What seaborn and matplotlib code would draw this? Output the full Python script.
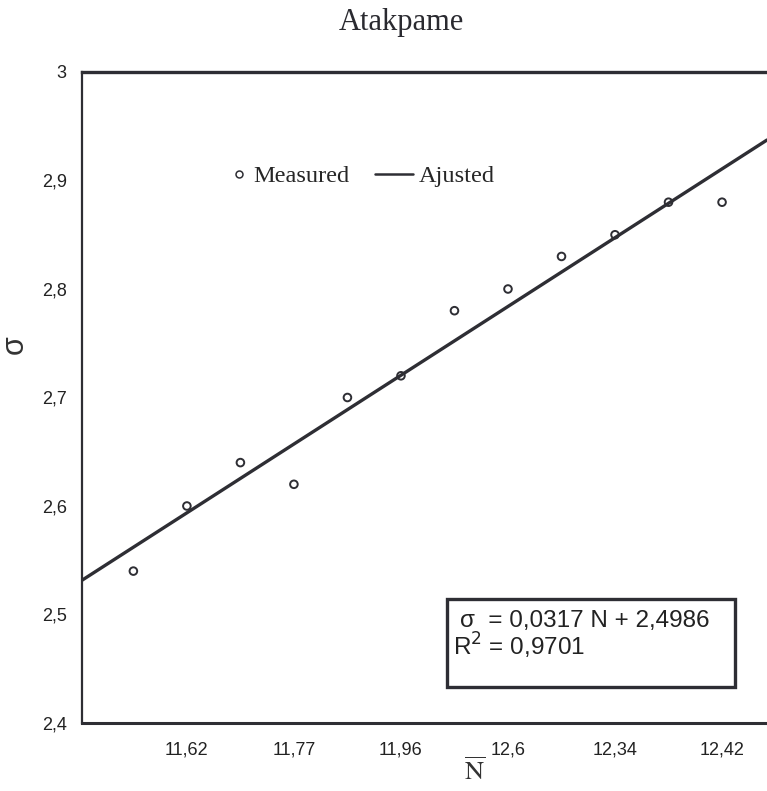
import numpy as np
import pandas as pd
import matplotlib
matplotlib.use("Agg")
import matplotlib.pyplot as plt
from matplotlib.patches import Rectangle
from matplotlib.lines import Line2D
import seaborn as sns

# Measured sigma per class of mean N, with the fitted linear trend
positions = [2, 3, 4, 5, 6, 7, 8, 9, 10, 11, 12, 13]
tick_labels = ["", "11,62", "", "11,77", "", "11,96", "", "12,6", "", "12,34", "", "12,42"]
sigma_measured = [2.54, 2.60, 2.64, 2.62, 2.70, 2.72, 2.78, 2.80, 2.83, 2.85, 2.88, 2.88]
fit_slope = 0.0317
fit_intercept = 2.4986
fit_r2 = 0.9701
y_ticks = [2.4, 2.5, 2.6, 2.7, 2.8, 2.9, 3.0]
y_tick_labels = ["2,4", "2,5", "2,6", "2,7", "2,8", "2,9", "3"]

sns.set_theme(style="white")
plt.rcParams["font.family"] = ["Liberation Sans", "DejaVu Sans"]

INK = "#2e2e34"
SANS = ["Liberation Sans", "DejaVu Sans"]
SERIF = ["Liberation Serif", "DejaVu Serif"]

W, H = 767, 791
fig = plt.figure(figsize=(W / 100, H / 100), dpi=100)
ax = fig.add_axes([82 / W, 68 / H, 685 / W, 651 / H])


def ax_x(px):
    return (px - 82) / 685


def ax_y(py):
    return (723 - py) / 651


x_lo, x_hi = 1.04, 13.84

# fitted line across the whole plotting range
xs = np.linspace(x_lo, x_hi, 60)
fit_df = pd.DataFrame({"N": xs, "sigma": fit_slope * xs + fit_intercept})
sns.lineplot(data=fit_df, x="N", y="sigma", ax=ax, color=INK, lw=2.4,
             legend=False, zorder=2)

# measured points as open circles
meas_df = pd.DataFrame({"N": positions, "sigma": sigma_measured})
sns.scatterplot(data=meas_df, x="N", y="sigma", ax=ax, marker="o", s=30,
                facecolor="none", edgecolor=INK, linewidth=1.4, zorder=3,
                legend=False)

ax.set_xlim(x_lo, x_hi)
ax.set_ylim(2.4, 3.0)
ax.set_xticks(positions)
ax.set_xticklabels(tick_labels, fontsize=13, family=SANS)
ax.set_yticks(y_ticks)
ax.set_yticklabels(y_tick_labels, fontsize=13, family=SANS)
ax.tick_params(axis="both", direction="inout", length=6, width=1.1, colors=INK)
ax.tick_params(axis="x", pad=10, labelcolor="#222222")
ax.tick_params(axis="y", pad=8, labelcolor="#222222")

ax.spines["right"].set_visible(False)
ax.spines["top"].set_linewidth(2.4)
ax.spines["bottom"].set_linewidth(2.2)
ax.spines["left"].set_linewidth(1.6)
for s in ("top", "bottom", "left"):
    ax.spines[s].set_color(INK)
ax.grid(False)

# axis titles
ax.set_ylabel("σ", fontsize=22, family=SANS, color="#333333", rotation=90)
ax.yaxis.set_label_coords(ax_x(30), ax_y(345))
ax.set_xlabel(r"$\overline{\mathrm{N}}$", fontsize=19, math_fontfamily="stix",
              color="#333333", va="top")
ax.xaxis.set_label_coords(ax_x(475), ax_y(757))

fig.text(401 / W, 1 - 30 / H, "Atakpame", ha="center", va="baseline",
         fontsize=22, family=SERIF, color="#2a2a30")

# legend: two entries side by side
leg_prop = {"family": SERIF, "size": 17.5}
h_meas = Line2D([], [], ls="none", marker="o", markersize=5,
                markerfacecolor="none", markeredgecolor=INK,
                markeredgewidth=1.1, label="Measured")
h_fit = Line2D([], [], color=INK, lw=1.8, label="Ajusted")
leg1 = ax.legend(handles=[h_meas], frameon=False, loc="center left",
                 bbox_to_anchor=(ax_x(232), ax_y(176)), prop=leg_prop,
                 handlelength=0.6, handletextpad=0.28, borderpad=0,
                 borderaxespad=0)
ax.add_artist(leg1)
ax.legend(handles=[h_fit], frameon=False, loc="center left",
          bbox_to_anchor=(ax_x(375), ax_y(176)), prop=leg_prop,
          handlelength=1.55, handletextpad=0.25, borderpad=0,
          borderaxespad=0)

# equation box
box = Rectangle((ax_x(447), ax_y(687)), (735 - 447) / 685, (687 - 599) / 651,
                transform=ax.transAxes, fill=True, facecolor="white",
                edgecolor=INK, lw=2.4, zorder=4)
ax.add_patch(box)
ax.text(ax_x(460), ax_y(621),
        f"σ  = {fit_slope:.4f} N + {fit_intercept:.4f}".replace(".", ","),
        transform=ax.transAxes, ha="left", va="center", fontsize=17.5,
        family=SANS, color="#222222", zorder=5)
ax.text(ax_x(453), ax_y(646),
        f"R$^2$ = {fit_r2:.4f}".replace(".", ","),
        transform=ax.transAxes, ha="left", va="center", fontsize=17.5,
        family=SANS, color="#222222", zorder=5)

fig.savefig("out.png", dpi=100, facecolor="white")
